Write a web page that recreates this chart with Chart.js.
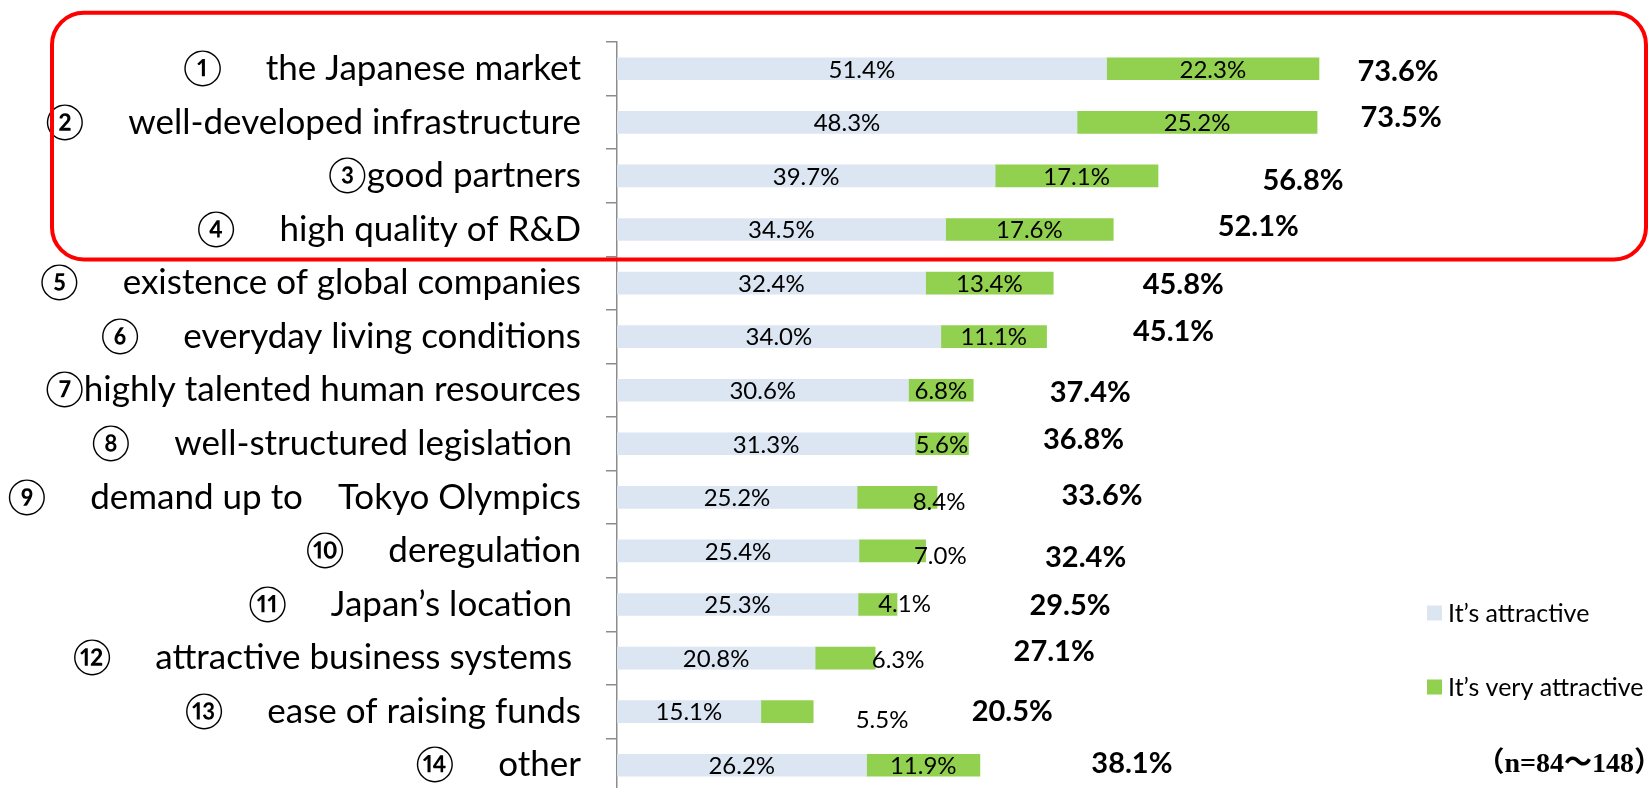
<!DOCTYPE html>
<html>
<head>
<meta charset="utf-8">
<script src="https://cdn.jsdelivr.net/npm/chart.js@4.4.7/dist/chart.umd.min.js"></script>
<style>
  html, body { margin: 0; padding: 0; background: #fff; overflow: hidden; }
  canvas { display: block; }
</style>
</head>
<body>
<canvas id="chart" width="1649" height="800"></canvas>
<script>
const categories = [
  "①\u3000 the Japanese market",
  "②\u3000 well-developed infrastructure",
  "③good partners",
  "④\u3000 high quality of R&D",
  "⑤\u3000 existence of global companies",
  "⑥\u3000 everyday living conditions",
  "⑦highly talented human resources",
  "⑧\u3000 well-structured legislation ",
  "⑨\u3000 demand up to\u3000Tokyo Olympics",
  "⑩\u3000 deregulation",
  "⑪\u3000 Japan’s location ",
  "⑫\u3000 attractive business systems ",
  "⑬\u3000 ease of raising funds",
  "⑭\u3000 other"
]
const attractive = [51.4, 48.3, 39.7, 34.5, 32.4, 34.0, 30.6, 31.3, 25.2, 25.4, 25.3, 20.8, 15.1, 26.2]
const veryAttractive = [22.3, 25.2, 17.1, 17.6, 13.4, 11.1, 6.8, 5.6, 8.4, 7.0, 4.1, 6.3, 5.5, 11.9]
const totals = [73.6, 73.5, 56.8, 52.1, 45.8, 45.1, 37.4, 36.8, 33.6, 32.4, 29.5, 27.1, 20.5, 38.1]
const seriesNames = ["It’s attractive", "It’s very attractive"]
const sampleNote = "（n=84～148）"

const FONT = "Lato, 'DejaVu Sans', 'Noto Sans CJK JP', sans-serif"

// hand-placed labels in the original: pixel nudges
const greenShift = [[0,0],[0,0],[0,0],[0,0],[0,0],[0,0],[0,0],[0,0],[42,4],[48,4],[27,-1],[53,1],[95,8],[0,0]]
const totalShift = [[80,3],[84,-5],[145,5],[145,-3],[130,2],[127,-5],[117,2],[116,-4],[165,-2],[160,7],[172,1],[179,-6],[200,0],[152,-2]]

const labelPlugin = {
  id: "labels",
  afterDatasetsDraw(chart) {
    const ctx = chart.ctx
    const x = chart.scales.x
    ctx.save()
    ctx.fillStyle = "#000"
    ctx.textAlign = "center"
    ctx.textBaseline = "middle"
    ctx.font = "24px " + FONT
    chart.getDatasetMeta(0).data.forEach((bar, i) => {
      ctx.fillText(attractive[i].toFixed(1) + "%", (bar.x + bar.base) / 2, bar.y + 1)
    })
    chart.getDatasetMeta(1).data.forEach((bar, i) => {
      const s = greenShift[i]
      ctx.fillText(veryAttractive[i].toFixed(1) + "%", (bar.x + bar.base) / 2 + s[0], bar.y + 1 + s[1])
    })
    ctx.font = "bold 29px " + FONT
    chart.getDatasetMeta(1).data.forEach((bar, i) => {
      const s = totalShift[i]
      ctx.fillText(totals[i].toFixed(1) + "%", x.getPixelForValue(totals[i]) + s[0], bar.y + s[1])
    })
    ctx.restore()
  },
  afterDraw(chart) {
    const ctx = chart.ctx
    const y = chart.scales.y
    ctx.save()
    // red frame round the top four items
    const top = y.getPixelForValue(0) - 56
    const bottom = y.getPixelForValue(3) + 30
    ctx.strokeStyle = "#ff0000"
    ctx.lineWidth = 4
    ctx.beginPath()
    ctx.roundRect(52, top, 1594, bottom - top, 32)
    ctx.stroke()

    // legend
    ctx.font = "25px " + FONT
    ctx.textBaseline = "middle"
    ctx.textAlign = "left"
    chart.data.datasets.forEach((ds, i) => {
      const cy = 613 + i * 74
      ctx.fillStyle = ds.backgroundColor
      ctx.fillRect(1427, cy - 7.5, 15, 15)
      ctx.fillStyle = "#000"
      ctx.fillText(ds.label, 1448, cy + 1)
    })

    ctx.font = "bold 28px 'Liberation Serif', 'Noto Sans CJK JP', serif"
    ctx.textAlign = "right"
    ctx.fillText(sampleNote, 1662, 765)
    ctx.restore()
  }
}

new Chart(document.getElementById("chart"), {
  type: "bar",
  data: {
    labels: categories,
    datasets: [
      { label: seriesNames[0], data: attractive, backgroundColor: "#dce6f2", barThickness: 22 },
      { label: seriesNames[1], data: veryAttractive, backgroundColor: "#92d050", barThickness: 22 }
    ]
  },
  options: {
    indexAxis: "y",
    responsive: false,
    animation: false,
    devicePixelRatio: 1,
    layout: { padding: { top: 42, bottom: 8, left: 0, right: 270 } },
    plugins: {
      legend: { display: false },
      tooltip: { enabled: false }
    },
    scales: {
      x: { stacked: true, display: false, min: 0, max: 80 },
      y: {
        stacked: true,
        afterFit: (s) => {
          s.width = 617
          s.paddingTop = 0
          s.paddingBottom = 0
        },
        border: { display: true, color: "#8c8c8c", width: 1.5 },
        grid: { display: true, drawOnChartArea: false, drawTicks: true, tickLength: 11, offset: true, color: "#8c8c8c", lineWidth: 1.5 },
        ticks: { color: "#000", padding: 25, font: { family: FONT, size: 35 } }
      }
    }
  },
  plugins: [labelPlugin]
})
</script>
</body>
</html>
